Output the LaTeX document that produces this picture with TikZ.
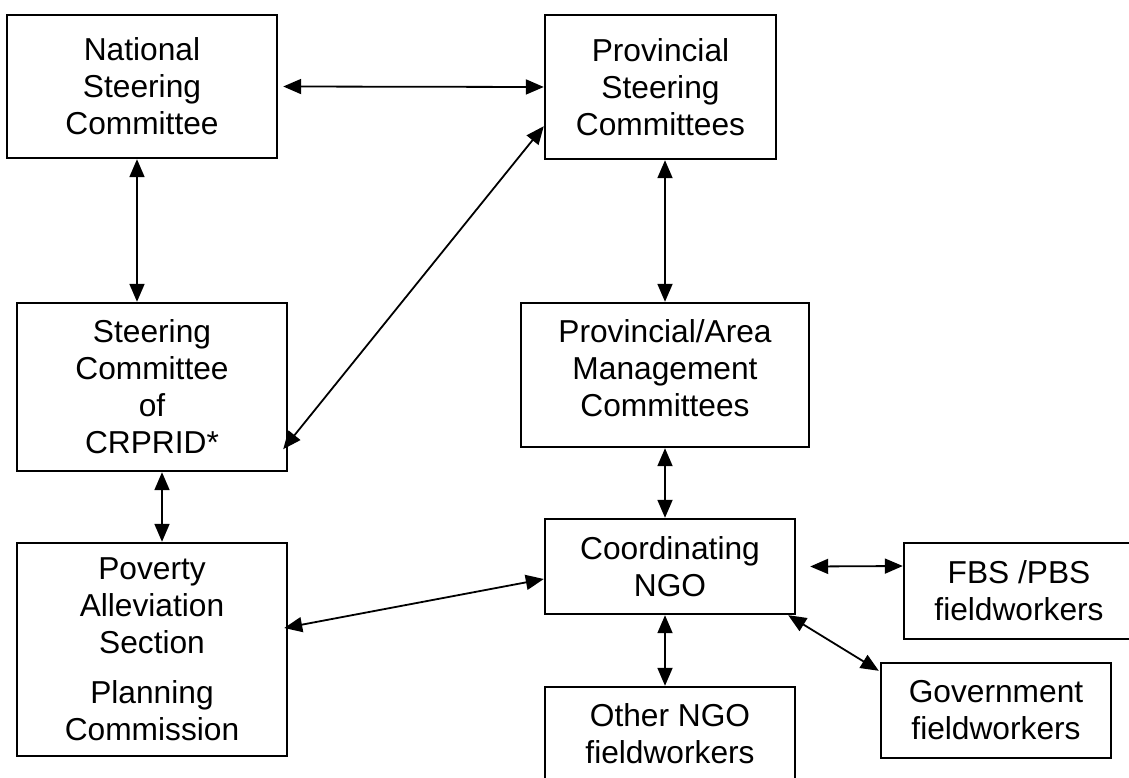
\documentclass[tikz,border=0pt]{standalone}
\usepackage{fontspec}
\setmainfont{Liberation Sans}
\usetikzlibrary{arrows.meta}
\begin{document}
\begin{tikzpicture}[x=1pt,y=-1pt,
  txt/.style={align=center, inner sep=0pt, font=\fontsize{31.7pt}{37pt}\selectfont},
  box/.style={txt, draw, line width=2.4pt, rectangle},
  arr/.style={line width=1.8pt, {Triangle[length=18pt,width=15pt]}-{Triangle[length=18pt,width=15pt]}}]
\useasboundingbox (0,0) rectangle (1129,778);
\clip (0,0) rectangle (1129,778);
\fill[white] (0,0) rectangle (1129,778);
% boxes
\node[box, minimum width=270pt, minimum height=143pt] (A) at (142,86.5) {National\\Steering\\Committee};
\node[box, minimum width=231pt, minimum height=144pt] (B) at (660.5,87) {Provincial\\Steering\\Committees};
\node[box, minimum width=270pt, minimum height=168pt] (C) at (152,387) {Steering\\Committee\\of\\CRPRID*};
\node[box, minimum width=288pt, minimum height=144pt] (D) at (665,375) {};
\node[txt] (Dt) at (665,368) {Provincial/Area\\Management\\Committees};
\node[box, minimum width=270pt, minimum height=213pt] (E) at (152,649.5) {Poverty\\Alleviation\\Section\\[13pt]Planning\\Commission};
\node[box, minimum width=250pt, minimum height=95pt] (F) at (670,566.5) {Coordinating\\NGO};
\node[box, minimum width=250pt, minimum height=94pt] (G) at (670,734) {Other NGO\\fieldworkers};
\node[box, minimum width=230pt, minimum height=96pt] (H) at (1019,591) {FBS /PBS\\fieldworkers};
\node[box, minimum width=230pt, minimum height=95pt] (I) at (996,710.5) {Government\\fieldworkers};
% connectors
\draw[arr] ([xshift=5pt]A.east) -- (B.west);
\draw[arr] ([xshift=-5pt]A.south) -- ([xshift=-15pt]C.north);
\draw[arr] ([yshift=34pt]B.south west) -- ([xshift=-5pt,yshift=23pt]C.south east);
\draw[arr] ([xshift=10pt]C.south) -- ([xshift=10pt]E.north);
\draw[arr] ([xshift=4.5pt]B.south) -- (D.north);
\draw[arr] (D.south) -- ([xshift=-5pt]F.north);
\draw[arr] ([xshift=-5pt]F.south) -- ([xshift=-5pt]G.north);
\draw[arr] ([xshift=-4pt,yshift=21.5pt]E.east) -- ([yshift=-12.5pt]F.west);
\draw[arr] ([xshift=14pt]F.east) -- ([yshift=25pt]H.west);
\draw[arr] ([xshift=-8pt]F.south east) -- ([xshift=-1pt,yshift=-9pt]I.north west);
\end{tikzpicture}
\end{document}
